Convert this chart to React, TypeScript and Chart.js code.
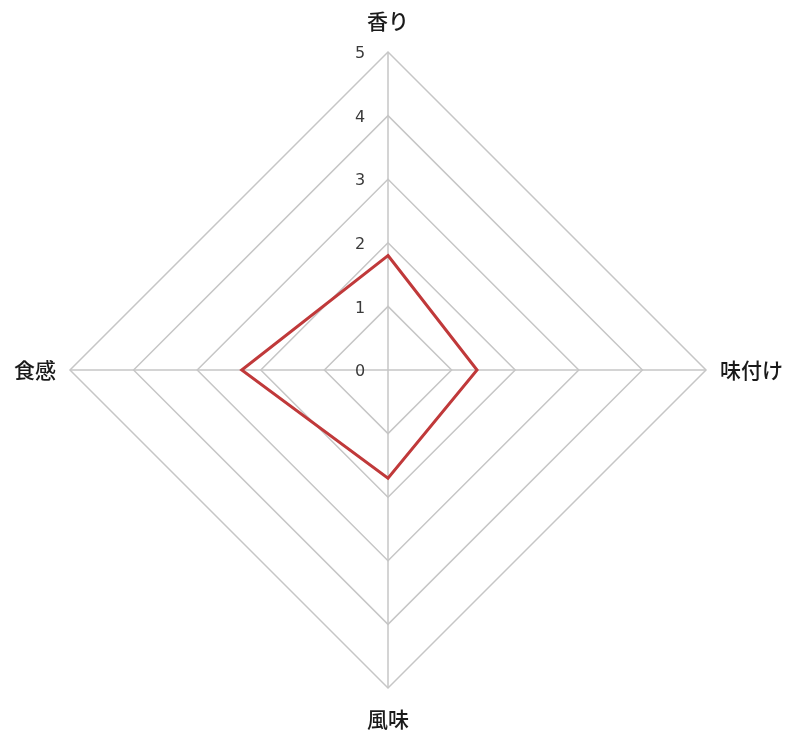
import React, { useEffect, useRef } from "react";
import { Chart, registerables } from "chart.js";

Chart.register(...registerables);

const categories = ["香り", "味付け", "風味", "食感"];
const scores = [1.8, 1.4, 1.7, 2.3];
const tickValues = [0, 1, 2, 3, 4, 5];

const labelPlugin = {
  id: "customLabels",
  afterDraw(chart: any) {
    const scale = chart.scales.r;
    const ctx = chart.ctx;
    ctx.save();
    // tick labels, left of the vertical axis
    ctx.font = "16px 'DejaVu Sans', 'Liberation Sans', sans-serif";
    ctx.fillStyle = "#3a3a3a";
    ctx.textAlign = "center";
    ctx.textBaseline = "middle";
    tickValues.forEach((v) => {
      const d = scale.getDistanceFromCenterForValue(v);
      ctx.fillText(String(v), scale.xCenter - 28, scale.yCenter - d + 2);
    });
    // point labels
    ctx.font = "500 21px 'Noto Sans CJK JP', sans-serif";
    ctx.fillStyle = "#1a1a1a";
    categories.forEach((c, i) => {
      const angle = scale.getIndexAngle(i);
      const horiz = Math.abs(Math.sin(angle)) > 0.5;
      const extra = horiz ? 14 : 31;
      const p = scale.getPointPosition(i, scale.drawingArea + extra);
      if (horiz) {
        ctx.textAlign = Math.sin(angle) > 0 ? "left" : "right";
      } else {
        ctx.textAlign = "center";
      }
      ctx.textBaseline = "middle";
      ctx.fillText(c, p.x, p.y);
    });
    ctx.restore();
  },
};

export default function App() {
  const ref = useRef<HTMLCanvasElement>(null);
  useEffect(() => {
    document.body.style.margin = "0";
    const chart = new Chart(ref.current!, {
      type: "radar",
      data: {
        labels: categories,
        datasets: [
          {
            data: scores,
            borderColor: "#c0393a",
            borderWidth: 3,
            backgroundColor: "rgba(0,0,0,0)",
            fill: false,
            pointRadius: 0,
            pointHoverRadius: 0,
            tension: 0,
          },
        ],
      },
      options: {
        responsive: false,
        animation: false,
        layout: { padding: { left: 70, right: 94, top: 52, bottom: 48 } },
        plugins: { legend: { display: false }, tooltip: { enabled: false } },
        scales: {
          r: {
            min: 0,
            max: 5,
            ticks: { stepSize: 1, display: false },
            pointLabels: { display: false },
            grid: { color: "#c6c6c6", lineWidth: 1.5 },
            angleLines: { color: "#c6c6c6", lineWidth: 1.5 },
          },
        },
      },
      plugins: [labelPlugin],
    });
    return () => chart.destroy();
  }, []);
  return (
    <div style={{ position: "absolute", left: 0, top: 0, width: 800, height: 736, background: "#fff" }}>
      <canvas ref={ref} width={800} height={736} />
    </div>
  );
}
